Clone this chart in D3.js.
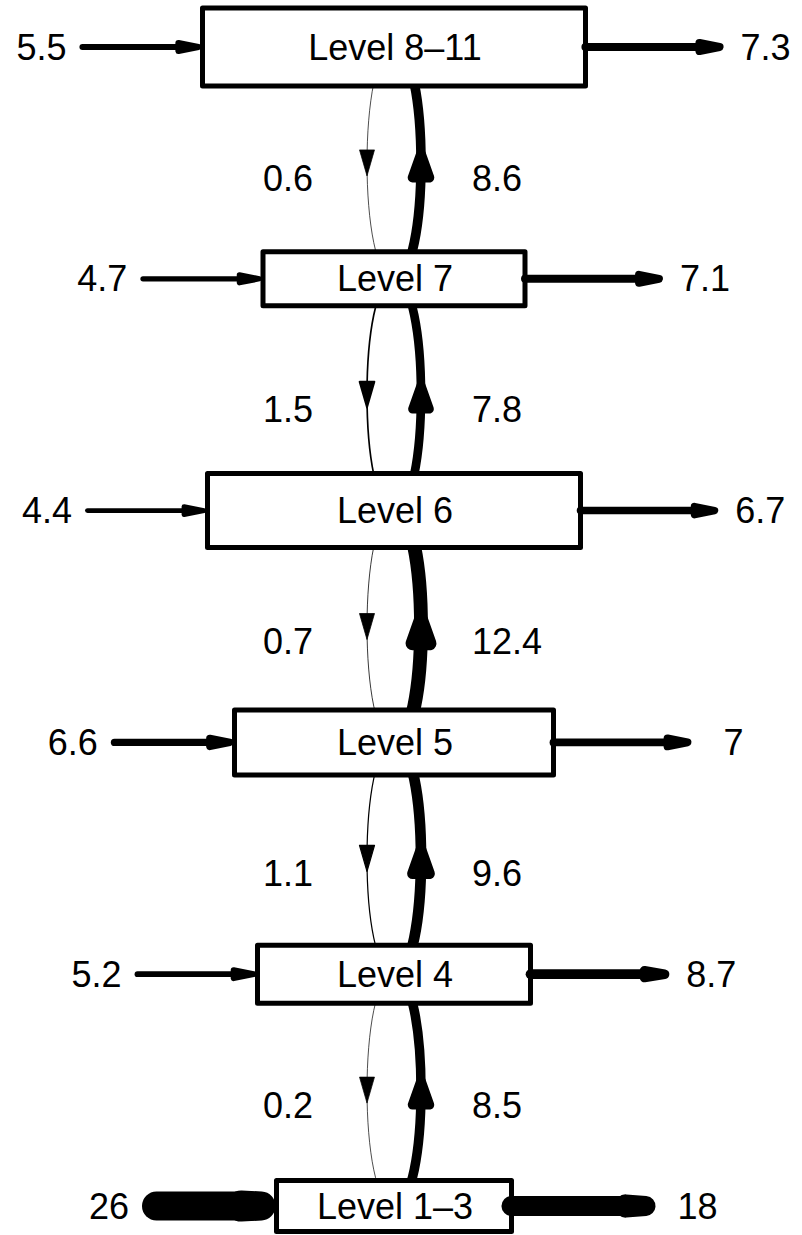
<!DOCTYPE html>
<html>
<head>
<meta charset="utf-8">
<script src="https://cdn.jsdelivr.net/npm/d3@7"></script>
<style>
  html, body { margin: 0; padding: 0; background: #fff; }
  svg { display: block; }
  text { font-family: "Liberation Sans", Arial, Helvetica, sans-serif; fill: #000; }
</style>
</head>
<body>
<svg id="chart" width="802" height="1235"></svg>
<script>
// ---- data ----
const levels  = ["Level 8\u201311", "Level 7", "Level 6", "Level 5", "Level 4", "Level 1\u20133"];
const inflow  = [5.5, 4.7, 4.4, 6.6, 5.2, 26];
const outflow = [7.3, 7.1, 6.7, 7, 8.7, 18];
const down    = [0.6, 1.5, 0.7, 1.1, 0.2];   // level i -> level i+1 (downward)
const up      = [8.6, 7.8, 12.4, 9.6, 8.5];  // level i+1 -> level i (upward)

// ---- layout (not data) ----
const boxW = [383, 262, 373, 319, 273, 235];
const boxH = [78, 54, 74, 65, 58, 51];
const cx = 394;
const fontSize = 36;

const svg = d3.select("#chart");
const y = d3.scalePoint().domain(levels).range([47, 1206]);
const lw = d3.scaleLinear().domain([0, 26]).range([0, 29]);

function head(tipX, tipY, dx, dy, len, hw) {
  const bx = tipX - dx * len, by = tipY - dy * len;
  const px = -dy, py = dx;
  return `M${tipX},${tipY}L${bx + px * hw},${by + py * hw}L${bx - px * hw},${by - py * hw}Z`;
}

const gCurves = svg.append("g");
const gBoxes = svg.append("g");
const gArrows = svg.append("g");
const gText = svg.append("g");

// ---- vertical curved flows ----
for (let i = 0; i < levels.length - 1; i++) {
  const y1 = y(levels[i]), y2 = y(levels[i + 1]);
  const ym = (y1 + y2) / 2;
  const k = 36;
  // downward (left)
  const wd = Math.max(0.7, lw(down[i]));
  gCurves.append("path")
    .attr("d", `M${cx},${y1}C${cx - k},${y1} ${cx - k},${y2} ${cx},${y2}`)
    .attr("fill", "none").attr("stroke", "#000").attr("stroke-width", wd);
  gCurves.append("path")
    .attr("d", head(cx - 27, ym + 13, 0, 1, 26, 7.5))
    .attr("fill", "#000").attr("stroke", "#000").attr("stroke-width", wd)
    .attr("stroke-linejoin", "round");
  // upward (right)
  const wu = lw(up[i]);
  gCurves.append("path")
    .attr("d", `M${cx},${y2}C${cx + k},${y2} ${cx + k},${y1} ${cx},${y1}`)
    .attr("fill", "none").attr("stroke", "#000").attr("stroke-width", wu);
  gCurves.append("path")
    .attr("d", head(cx + 27, ym - 14 + wu / 2, 0, -1, 24, 8.5))
    .attr("fill", "#000").attr("stroke", "#000").attr("stroke-width", wu)
    .attr("stroke-linejoin", "round");
  gText.append("text")
    .attr("x", cx - 81).attr("y", ym + 15).attr("dy", "0.35em")
    .attr("text-anchor", "end").attr("font-size", fontSize)
    .text(down[i]);
  gText.append("text")
    .attr("x", cx + 78).attr("y", ym + 15).attr("dy", "0.35em")
    .attr("text-anchor", "start").attr("font-size", fontSize)
    .text(up[i]);
}

// ---- boxes ----
levels.forEach((lev, i) => {
  const yc = y(lev);
  gBoxes.append("rect")
    .attr("x", cx - boxW[i] / 2).attr("y", yc - boxH[i] / 2)
    .attr("width", boxW[i]).attr("height", boxH[i])
    .attr("fill", "#fff").attr("stroke", "#000").attr("stroke-width", 5)
    .attr("stroke-linejoin", "round");
  gText.append("text")
    .attr("x", cx + 1).attr("y", yc).attr("dy", "0.35em")
    .attr("text-anchor", "middle").attr("font-size", fontSize)
    .text(lev);
});

// ---- horizontal in/out flows ----
function headHW(w) { return 4 * Math.min(1, 8 / w); }
levels.forEach((lev, i) => {
  const yc = y(lev);
  const left = cx - boxW[i] / 2, right = cx + boxW[i] / 2;
  // inflow
  const wi = lw(inflow[i]);
  const tipI = left - wi / 2 - 1;
  const startI = left - 120;
  gArrows.append("line")
    .attr("x1", startI).attr("y1", yc).attr("x2", tipI - 10).attr("y2", yc)
    .attr("stroke", "#000").attr("stroke-width", wi).attr("stroke-linecap", "round");
  gArrows.append("path")
    .attr("d", head(tipI, yc, 1, 0, 20, headHW(wi)))
    .attr("fill", "#000").attr("stroke", "#000").attr("stroke-width", wi)
    .attr("stroke-linejoin", "round");
  gText.append("text")
    .attr("x", startI - wi / 2 - 13).attr("y", yc).attr("dy", "0.35em")
    .attr("text-anchor", "end").attr("font-size", fontSize)
    .text(inflow[i]);
  // outflow
  const wo = lw(outflow[i]);
  const tipO = right + 134;
  gArrows.append("line")
    .attr("x1", right).attr("y1", yc).attr("x2", tipO - 10).attr("y2", yc)
    .attr("stroke", "#000").attr("stroke-width", wo).attr("stroke-linecap", "round");
  gArrows.append("path")
    .attr("d", head(tipO, yc, 1, 0, 20, headHW(wo)))
    .attr("fill", "#000").attr("stroke", "#000").attr("stroke-width", wo)
    .attr("stroke-linejoin", "round");
  gText.append("text")
    .attr("x", tipO + wo / 2 + 42).attr("y", yc).attr("dy", "0.35em")
    .attr("text-anchor", "middle").attr("font-size", fontSize)
    .text(outflow[i]);
});
</script>
</body>
</html>
